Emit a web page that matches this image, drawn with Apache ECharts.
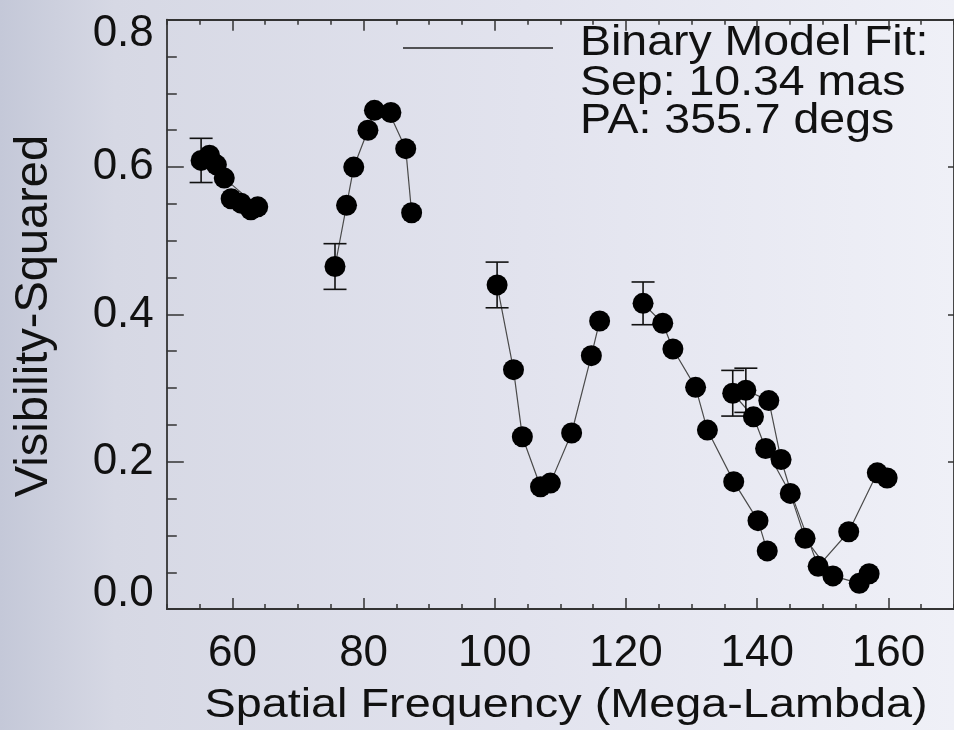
<!DOCTYPE html>
<html>
<head>
<meta charset="utf-8">
<script src="https://cdn.jsdelivr.net/npm/echarts@6/dist/echarts.min.js"></script>
<style>
  html, body { margin: 0; padding: 0; }
  #chart { width: 954px; height: 730px; }
</style>
</head>
<body>
<div id="chart"></div>
<script>
// Measured squared visibilities (spatial frequency in mega-lambda)
const freq = [55.23, 56.51, 57.56, 58.76, 59.81, 61.31, 62.81, 63.86,
              75.64, 77.40, 78.50, 80.66, 81.65, 84.16, 86.42, 87.32,
              100.35, 102.85, 104.20, 106.97, 108.47, 111.71, 114.72, 115.98,
              122.60, 125.60, 127.15, 130.61, 132.41, 136.42, 140.12, 141.53,
              136.27, 138.27, 139.43, 141.77, 141.28, 143.64, 145.04, 147.30,
              149.29, 151.54, 153.95, 155.56, 157.06, 158.31, 159.81];
const vis2 = [0.609, 0.616, 0.603, 0.585, 0.557, 0.551, 0.542, 0.546,
              0.465, 0.548, 0.600, 0.650, 0.677, 0.674, 0.625, 0.538,
              0.440, 0.325, 0.234, 0.166, 0.171, 0.239, 0.344, 0.391,
              0.415, 0.388, 0.353, 0.301, 0.243, 0.173, 0.120, 0.079,
              0.293, 0.297, 0.261, 0.283, 0.218, 0.203, 0.157, 0.096,
              0.058, 0.045, 0.105, 0.035, 0.048, 0.185, 0.178];

// Representative error bars (one per baseline group)
const errFreq  = [55.23, 75.64, 100.35, 122.60, 136.27, 138.27];
const errVis2  = [0.609, 0.465, 0.440, 0.415, 0.293, 0.297];
const errSigma = [0.030, 0.031, 0.031, 0.029, 0.031, 0.030];

// Binary model fit, evaluated along each baseline track
const fit1Freq = [55.23, 56.51, 57.56, 58.76, 63.86];
const fit1Vis2 = [0.609, 0.616, 0.603, 0.585, 0.546];
const fit2Freq = [75.64, 77.40, 78.50, 80.66, 81.65, 84.60, 86.42, 87.32];
const fit2Vis2 = [0.465, 0.548, 0.600, 0.650, 0.677, 0.660, 0.625, 0.538];
const fit3Freq = [100.35, 102.85, 104.20, 106.97, 108.47, 111.71, 114.72, 115.98];
const fit3Vis2 = [0.440, 0.325, 0.234, 0.166, 0.171, 0.239, 0.344, 0.391];
const fit4Freq = [122.60, 125.60, 127.15, 130.61, 132.41, 136.42, 140.12, 141.53];
const fit4Vis2 = [0.415, 0.388, 0.353, 0.301, 0.243, 0.173, 0.120, 0.079];
const fit5Freq = [136.27, 139.43, 141.28, 145.04, 147.30, 151.54, 155.56, 157.06];
const fit5Vis2 = [0.293, 0.261, 0.218, 0.157, 0.096, 0.045, 0.035, 0.048];
const fit6Freq = [138.27, 141.77, 143.64, 145.30, 149.29, 153.95, 158.31, 159.81];
const fit6Vis2 = [0.297, 0.283, 0.203, 0.154, 0.058, 0.105, 0.185, 0.178];

// Axis ticks
const xMajorTicks = [60, 80, 100, 120, 140, 160];

const fitText = ['Binary Model Fit:', 'Sep: 10.34 mas', 'PA: 355.7 degs'];

const FONT = '"Liberation Sans", Arial, Helvetica, sans-serif';
const INK = '#111';
const AXIS = '#333';

const zip = (a, b) => a.map((v, i) => [v, b[i]]);

const fits = [
  [fit1Freq, fit1Vis2], [fit2Freq, fit2Vis2], [fit3Freq, fit3Vis2],
  [fit4Freq, fit4Vis2], [fit5Freq, fit5Vis2], [fit6Freq, fit6Vis2]
];

const chart = echarts.init(document.getElementById('chart'), null, { renderer: 'canvas' });

const axisLineStyle = { color: AXIS, width: 1.8 };
const tickStyle = { color: AXIS, width: 1.5 };

const xBase = { type: 'value', min: 50, max: 170, gridIndex: 0, splitLine: { show: false } };
const yBase = {
  type: 'value', min: 0, max: 0.8, interval: 0.2,
  axisLine: { show: true, lineStyle: axisLineStyle },
  axisTick: { show: true, inside: true, length: 17, lineStyle: tickStyle },
  minorTick: { show: true, splitNumber: 4, length: 10, lineStyle: tickStyle },
  splitLine: { show: false }, minorSplitLine: { show: false }
};

const labelRich = {
  n:  { fontFamily: FONT, fontSize: 44, color: INK },
  hi: { fontFamily: FONT, fontSize: 44, color: INK, padding: [28, 0, 0, 0] },
  lo: { fontFamily: FONT, fontSize: 44, color: INK, padding: [0, 0, 30, 0] }
};

const option = {
  animation: false,
  backgroundColor: {
    type: 'linear', x: 0, y: 0, x2: 1, y2: 0,
    colorStops: [
      { offset: 0, color: '#c4c8d8' },
      { offset: 0.12, color: '#d6d8e4' },
      { offset: 0.55, color: '#e2e3ee' },
      { offset: 1, color: '#eff0f7' }
    ]
  },
  grid: { left: 166.8, right: -12, top: 19.7, bottom: 120.9, containLabel: false },
  xAxis: [
    Object.assign({}, xBase, {
      position: 'bottom',
      axisLine: { show: true, onZero: false, lineStyle: axisLineStyle },
      axisTick: { show: true, inside: true, length: 11, customValues: xMajorTicks, lineStyle: tickStyle },
      axisLabel: { show: true, customValues: xMajorTicks, margin: 23, fontFamily: FONT, fontSize: 44, color: INK }
    }),
    Object.assign({}, xBase, {
      position: 'bottom', interval: 5,
      axisLine: { show: false, onZero: false },
      axisTick: { show: true, inside: true, length: 5, lineStyle: tickStyle },
      axisLabel: { show: false }
    }),
    Object.assign({}, xBase, {
      position: 'top',
      axisLine: { show: true, onZero: false, lineStyle: axisLineStyle },
      axisTick: { show: true, inside: true, length: 11, customValues: xMajorTicks, lineStyle: tickStyle },
      axisLabel: { show: false }
    }),
    Object.assign({}, xBase, {
      position: 'top', interval: 5,
      axisLine: { show: false, onZero: false },
      axisTick: { show: true, inside: true, length: 5, lineStyle: tickStyle },
      axisLabel: { show: false }
    })
  ],
  yAxis: [
    Object.assign({}, yBase, {
      position: 'left',
      axisLabel: {
        show: true, margin: 13, fontFamily: FONT, fontSize: 44, color: INK,
        formatter: function (v) {
          const s = v.toFixed(1);
          if (Math.abs(v - 0.8) < 1e-6) return '{hi|' + s + '}';
          if (Math.abs(v) < 1e-6) return '{lo|' + s + '}';
          return '{n|' + s + '}';
        },
        rich: labelRich
      }
    }),
    Object.assign({}, yBase, {
      position: 'right',
      axisTick: { show: true, inside: true, length: 6, lineStyle: tickStyle },
      minorTick: { show: false },
      axisLabel: { show: false }
    })
  ],
  graphic: [
    {
      type: 'text', x: 34.5, y: 316, rotation: Math.PI / 2,
      style: { text: 'Visibility-Squared', fontFamily: FONT, fontSize: 47, fill: INK, align: 'center', verticalAlign: 'middle' }
    },
    {
      type: 'text', x: 566, y: 706, scaleX: 1.17,
      style: { text: 'Spatial Frequency (Mega-Lambda)', fontFamily: FONT, fontSize: 40, fill: INK, align: 'center', verticalAlign: 'middle' }
    },
    {
      type: 'line', shape: { x1: 403, y1: 48, x2: 553, y2: 48 },
      style: { stroke: '#222', lineWidth: 1.5 }
    }
  ].concat(fitText.map((t, i) => ({
    type: 'text', x: 580, y: [43, 83, 121][i], scaleX: 1.106,
    style: { text: t, fontFamily: FONT, fontSize: 42, fill: INK, align: 'left', verticalAlign: 'middle' }
  }))),
  series: fits.map(([fx, fy]) => ({
    type: 'line',
    xAxisIndex: 0, yAxisIndex: 0,
    data: zip(fx, fy),
    symbol: 'none',
    lineStyle: { color: '#4a4a4a', width: 1.2 },
    silent: true,
    z: 2
  })).concat([
    {
      type: 'custom',
      xAxisIndex: 0, yAxisIndex: 0,
      data: errFreq.map((f, i) => [f, errVis2[i] - errSigma[i], errVis2[i] + errSigma[i]]),
      renderItem: function (params, api) {
        const lo = api.coord([api.value(0), api.value(1)]);
        const hi = api.coord([api.value(0), api.value(2)]);
        const half = 11.5;
        const style = { stroke: '#111', lineWidth: 1.6 };
        return {
          type: 'group',
          children: [
            { type: 'line', shape: { x1: lo[0], y1: lo[1], x2: hi[0], y2: hi[1] }, style: style },
            { type: 'line', shape: { x1: lo[0] - half, y1: lo[1], x2: lo[0] + half, y2: lo[1] }, style: style },
            { type: 'line', shape: { x1: hi[0] - half, y1: hi[1], x2: hi[0] + half, y2: hi[1] }, style: style }
          ]
        };
      },
      silent: true,
      z: 3
    },
    {
      type: 'scatter',
      xAxisIndex: 0, yAxisIndex: 0,
      data: zip(freq, vis2),
      symbol: 'circle',
      symbolSize: 21,
      itemStyle: { color: '#000', opacity: 1 },
      silent: true,
      z: 4
    }
  ])
};

chart.setOption(option);
</script>
</body>
</html>
